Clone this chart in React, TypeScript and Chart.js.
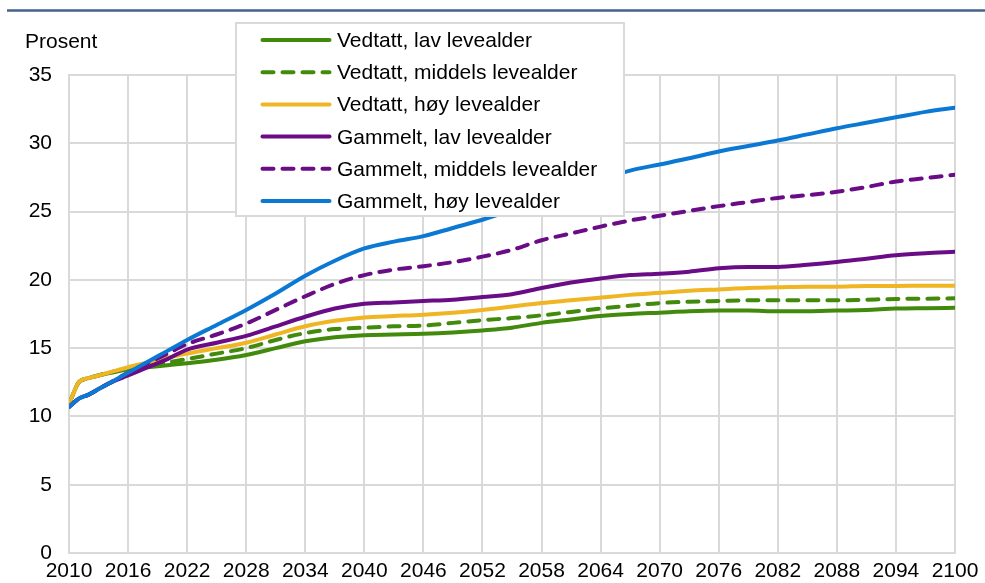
import React, { useEffect, useRef } from 'react';
import { Chart, registerables } from 'chart.js';

Chart.register(...registerables);

const FONT = "'Liberation Sans', Arial, Helvetica, sans-serif";

const years = [2010, 2011, 2012, 2013, 2014, 2016, 2018, 2020, 2022, 2025, 2028, 2031, 2034, 2037, 2040, 2043, 2046, 2049, 2052, 2055, 2058, 2061, 2064, 2067, 2070, 2073, 2076, 2079, 2082, 2085, 2088, 2091, 2094, 2097, 2100];

const vedtattLav = [10.9, 12.5, 12.8, 13.0, 13.15, 13.45, 13.6, 13.75, 13.9, 14.15, 14.5, 15.0, 15.5, 15.8, 15.95, 16.0, 16.05, 16.15, 16.3, 16.5, 16.85, 17.1, 17.35, 17.5, 17.6, 17.7, 17.75, 17.75, 17.7, 17.7, 17.75, 17.8, 17.9, 17.93, 17.95];
const vedtattMiddels = [10.9, 12.5, 12.8, 13.0, 13.2, 13.5, 13.75, 13.95, 14.2, 14.6, 15.0, 15.6, 16.1, 16.4, 16.5, 16.6, 16.65, 16.85, 17.05, 17.2, 17.4, 17.65, 17.9, 18.1, 18.3, 18.4, 18.45, 18.5, 18.5, 18.5, 18.5, 18.55, 18.6, 18.62, 18.65];
const vedtattHoy = [10.9, 12.5, 12.8, 13.0, 13.2, 13.6, 13.95, 14.3, 14.6, 15.0, 15.4, 16.0, 16.6, 17.0, 17.25, 17.35, 17.45, 17.6, 17.8, 18.05, 18.3, 18.5, 18.7, 18.9, 19.05, 19.2, 19.3, 19.4, 19.45, 19.5, 19.5, 19.55, 19.55, 19.57, 19.57];
const gammeltLav = [10.7, 11.3, 11.6, 12.0, 12.4, 13.0, 13.6, 14.2, 14.9, 15.4, 15.9, 16.6, 17.3, 17.9, 18.25, 18.35, 18.45, 18.55, 18.75, 18.95, 19.4, 19.8, 20.1, 20.35, 20.45, 20.6, 20.85, 20.95, 20.95, 21.1, 21.3, 21.55, 21.8, 21.95, 22.05];
const gammeltMiddels = [10.7, 11.3, 11.6, 12.0, 12.4, 13.2, 13.9, 14.6, 15.3, 16.0, 16.8, 17.8, 18.8, 19.7, 20.35, 20.75, 21.0, 21.3, 21.7, 22.2, 22.9, 23.4, 23.9, 24.35, 24.7, 25.05, 25.4, 25.7, 26.0, 26.2, 26.45, 26.8, 27.2, 27.45, 27.7];
const gammeltHoy = [10.7, 11.3, 11.6, 12.0, 12.4, 13.2, 14.0, 14.8, 15.6, 16.7, 17.8, 19.0, 20.3, 21.4, 22.3, 22.8, 23.2, 23.8, 24.4, 25.1, 25.85, 26.6, 27.35, 28.0, 28.45, 28.9, 29.4, 29.8, 30.2, 30.65, 31.1, 31.5, 31.9, 32.3, 32.6];

const seriesLabels = ['Vedtatt, lav levealder', 'Vedtatt, middels levealder', 'Vedtatt, høy levealder', 'Gammelt, lav levealder', 'Gammelt, middels levealder', 'Gammelt, høy levealder'];
const seriesValues = [vedtattLav, vedtattMiddels, vedtattHoy, gammeltLav, gammeltMiddels, gammeltHoy];
const seriesColors = ['#428a0c', '#428a0c', '#efb523', '#6a0c86', '#6a0c86', '#0b79d3'];
const seriesDashed = [false, true, false, false, true, false];

const yAxisTitle = 'Prosent';
const xMin = 2010;
const xMax = 2100;
const xStep = 6;
const yMin = 0;
const yMax = 35;
const yStep = 5;

const DASH = [11, 9];
const LINE_W = 4;

const decorPlugin = {
  id: 'decor',
  beforeDraw(chart: any) {
    const ctx = chart.ctx;
    ctx.save();
    ctx.fillStyle = '#ffffff';
    ctx.fillRect(0, 0, chart.width, chart.height);
    ctx.strokeStyle = '#46618e';
    ctx.lineWidth = 2.5;
    ctx.beginPath();
    ctx.moveTo(7, 10.5);
    ctx.lineTo(chart.width, 10.5);
    ctx.stroke();
    ctx.fillStyle = '#000000';
    ctx.font = `21px ${FONT}`;
    ctx.textAlign = 'left';
    ctx.textBaseline = 'alphabetic';
    ctx.fillText(yAxisTitle, 25, 48);
    ctx.restore();
  },
  afterDatasetsDraw(chart: any) {
    const ctx = chart.ctx;
    const bx = 236, by = 23, bw = 388, bh = 193;
    ctx.save();
    ctx.fillStyle = '#ffffff';
    ctx.fillRect(bx, by, bw, bh);
    ctx.strokeStyle = '#d9d9d9';
    ctx.lineWidth = 2;
    ctx.strokeRect(bx, by, bw, bh);
    chart.data.datasets.forEach((ds: any, i: number) => {
      const y = 40 + i * 32.2;
      ctx.strokeStyle = ds.borderColor;
      ctx.lineWidth = LINE_W;
      ctx.lineCap = 'round';
      ctx.setLineDash(ds.borderDash || []);
      ctx.beginPath();
      ctx.moveTo(262.5, y);
      ctx.lineTo(329.5, y);
      ctx.stroke();
      ctx.setLineDash([]);
      ctx.fillStyle = '#000000';
      ctx.font = `21px ${FONT}`;
      ctx.textAlign = 'left';
      ctx.textBaseline = 'alphabetic';
      ctx.fillText(ds.label, 337, y + 7);
    });
    ctx.restore();
  },
};

export default function App() {
  const canvasRef = useRef<HTMLCanvasElement | null>(null);

  useEffect(() => {
    const canvas = canvasRef.current;
    if (!canvas) return;
    const datasets = seriesLabels.map((label, i) => ({
      label,
      data: years.map((x, j) => ({ x, y: seriesValues[i][j] })),
      borderColor: seriesColors[i],
      backgroundColor: seriesColors[i],
      borderWidth: LINE_W,
      borderDash: seriesDashed[i] ? DASH : [],
      borderCapStyle: 'round',
      borderJoinStyle: 'round',
      pointRadius: 0,
      pointHoverRadius: 0,
      cubicInterpolationMode: 'monotone',
      fill: false,
      order: seriesLabels.length - i,
    }));
    const chart = new Chart(canvas, {
      type: 'line',
      data: { datasets } as any,
      options: {
        responsive: false,
        animation: false,
        devicePixelRatio: 1,
        layout: { padding: { left: 0, right: 30, top: 75, bottom: 0 } },
        plugins: {
          legend: { display: false },
          tooltip: { enabled: false },
          title: { display: false },
        },
        scales: {
          x: {
            type: 'linear',
            min: xMin,
            max: xMax,
            afterFit: (s: any) => { s.height = 30; },
            grid: { color: '#d9d9d9', lineWidth: 2, drawTicks: false },
            border: { color: '#d9d9d9', width: 2 },
            ticks: {
              stepSize: xStep,
              autoSkip: false,
              maxRotation: 0,
              padding: 6,
              color: '#000000',
              font: { family: FONT, size: 21 },
              callback: (v: any) => String(v),
            },
          },
          y: {
            type: 'linear',
            min: yMin,
            max: yMax,
            afterFit: (s: any) => { s.width = 69; },
            grid: { color: '#d9d9d9', lineWidth: 2, drawTicks: false },
            border: { color: '#d9d9d9', width: 2 },
            ticks: {
              stepSize: yStep,
              padding: 17,
              color: '#000000',
              font: { family: FONT, size: 21 },
            },
          },
        },
      } as any,
      plugins: [decorPlugin],
    });
    return () => chart.destroy();
  }, []);

  return (
    <div style={{ position: 'absolute', left: 0, top: 0, width: 985, height: 583, background: '#fff' }}>
      <canvas ref={canvasRef} width={985} height={583} style={{ display: 'block', width: 985, height: 583 }} />
    </div>
  );
}
